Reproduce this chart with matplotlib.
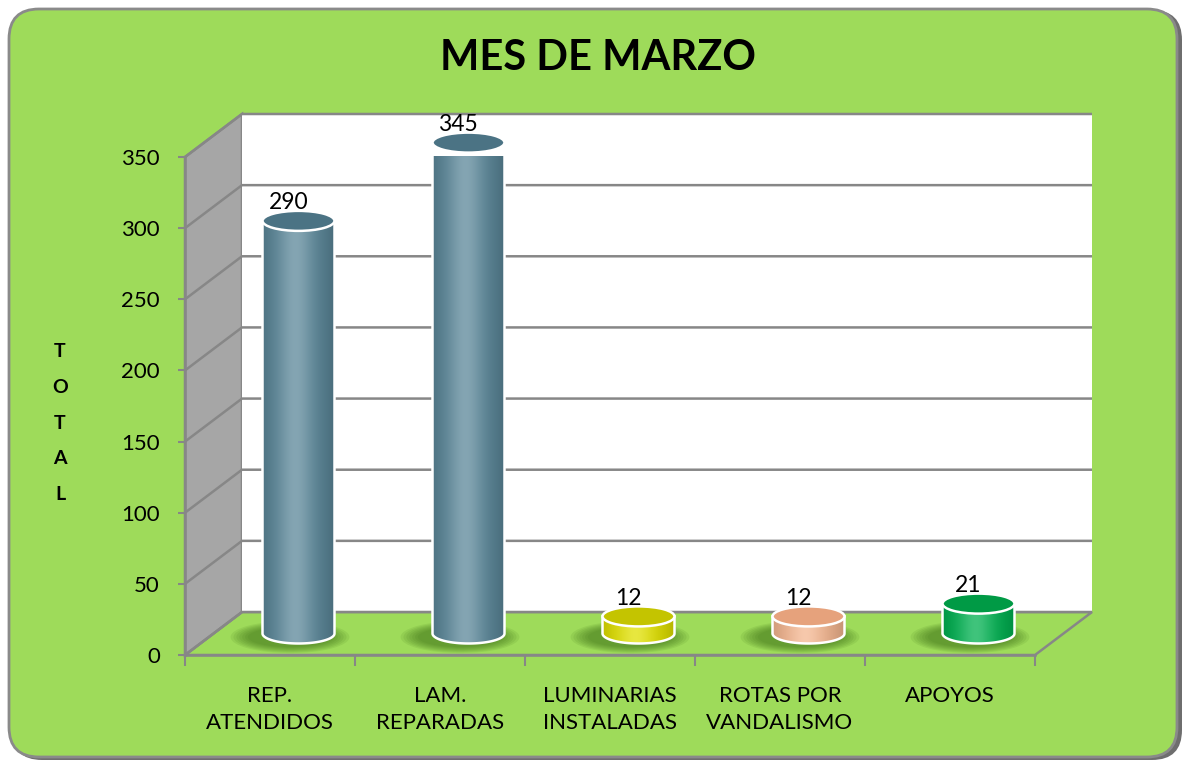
import numpy as np
import matplotlib.pyplot as plt
from matplotlib.patches import FancyBboxPatch, Polygon, Ellipse
from matplotlib.colors import to_rgb

# Daten
categories = ["REP.\nATENDIDOS", "LAM.\nREPARADAS", "LUMINARIAS\nINSTALADAS",
              "ROTAS POR\nVANDALISMO", "APOYOS"]
values = [290, 345, 12, 12, 21]
body_colors = ["#5b8799", "#5b8799", "#e0e000", "#f4b690", "#00b050"]
top_colors = ["#4b7384", "#4b7384", "#c4c400", "#e6a27c", "#009a45"]
yticks = [0, 50, 100, 150, 200, 250, 300, 350]

plt.rcParams['font.family'] = ['Lato', 'DejaVu Sans']

W, H = 1188, 766
fig = plt.figure(figsize=(W / 100, H / 100), dpi=100)
fig.patch.set_facecolor("white")

# Hintergrund mit abgerundetem Rahmen
bg = fig.add_axes([0, 0, 1, 1], zorder=-5)
bg.set_xlim(0, W)
bg.set_ylim(0, H)
bg.axis("off")
bg.add_patch(FancyBboxPatch((12, 6), W - 18, H - 16, boxstyle="round,pad=0,rounding_size=30",
                            facecolor="#6e6e6e", edgecolor="none"))
bg.add_patch(FancyBboxPatch((9, 9), W - 20, H - 18, boxstyle="round,pad=0,rounding_size=30",
                            facecolor="#9edb5a", edgecolor="#8a8a8a", linewidth=2))

# Plotbereich (Vorderkante der 3D-Box)
ax = fig.add_axes([185 / W, (H - 655) / H, 850 / W, 498 / H])
ax.patch.set_alpha(0)

DX = 57 / 170          # Tiefenversatz in Kategorie-Einheiten
DY = 43 / (498 / 350)  # Tiefenversatz in Werte-Einheiten
x0, x1 = -0.5, len(categories) - 0.5
ymax = yticks[-1]
grid_c = "#878787"

# Wände und Boden
ax.add_patch(Polygon([(x0, 0), (x0 + DX, DY), (x1 + DX, DY), (x1, 0)],
                     facecolor="#9edb5a", edgecolor=grid_c, lw=1.8, zorder=1, clip_on=False))
ax.add_patch(Polygon([(x0, 0), (x0 + DX, DY), (x0 + DX, ymax + DY), (x0, ymax)],
                     facecolor="#a6a6a6", edgecolor=grid_c, lw=1.8, zorder=1, clip_on=False))
ax.add_patch(Polygon([(x0 + DX, DY), (x1 + DX, DY), (x1 + DX, ymax + DY), (x0 + DX, ymax + DY)],
                     facecolor="white", edgecolor="none", zorder=1, clip_on=False))
for v in yticks:
    ax.plot([x0, x0 + DX, x1 + DX], [v, v + DY, v + DY], color=grid_c, lw=1.8,
            zorder=1.5, clip_on=False, solid_capstyle="butt")


def shade(color, n=80):
    c = np.array(to_rgb(color))
    t = np.linspace(0, 1, n)
    light = np.exp(-((t - 0.45) / 0.25) ** 2) * 0.25
    dark = (np.abs(t - 0.45) ** 1.6) * 0.5
    rows = []
    for li, dk in zip(light, dark):
        col = c + (1 - c) * li
        col = col * (1 - dk)
        rows.append(np.clip(col, 0, 1))
    return np.array(rows)[None, :, :]


r = 72 / 170 / 2       # Radius in Kategorie-Einheiten
eh = 20 / (498 / 350)  # Ellipsenhöhe in Werte-Einheiten
base = DY / 2
ts = np.linspace(np.pi, 2 * np.pi, 60)

for i, (v, bc, tc) in enumerate(zip(values, body_colors, top_colors)):
    cx = i + DX / 2
    top = base + v
    # Schatten auf dem Boden
    for k in range(7):
        ax.add_patch(Ellipse((cx - 0.05, base - 2.5), 2 * r * (1.65 - 0.08 * k), eh * (1.6 - 0.1 * k),
                             facecolor="#3a7015", alpha=0.11, edgecolor="none", zorder=2,
                             clip_on=False))
    pts = [(cx + r * np.cos(t), base + eh / 2 * np.sin(t)) for t in ts]
    pts += [(cx + r, top), (cx - r, top)]
    body = Polygon(pts, closed=True, facecolor="none", edgecolor="white", lw=1.8, zorder=3.2,
                   clip_on=False)
    ax.add_patch(body)
    im = ax.imshow(shade(bc), extent=(cx - r, cx + r, base - eh, top), aspect="auto",
                   zorder=3, interpolation="bilinear")
    im.set_clip_path(body)
    im.set_clip_box(None)
    ax.add_patch(Ellipse((cx, top), 2 * r, eh, facecolor=tc, edgecolor="white", lw=1.8,
                         zorder=3.4, clip_on=False))
    ax.text(cx - 0.06, top + eh / 2 - 1.5, str(v), ha="center", va="bottom", fontsize=16.5,
            color="black", zorder=4, clip_on=False)

ax.set_xlim(x0, x1)
ax.set_ylim(0, 350)

# Achsen
for s in ["top", "right"]:
    ax.spines[s].set_visible(False)
for s in ["left", "bottom"]:
    ax.spines[s].set_color(grid_c)
    ax.spines[s].set_linewidth(1.8)
    ax.spines[s].set_zorder(5)
ax.set_yticks(yticks)
ax.set_yticklabels([str(t) for t in yticks], fontsize=16)
ax.tick_params(axis="y", length=5, width=1.5, color=grid_c, pad=13)
ax.set_xticks(range(len(categories)))
ax.set_xticklabels(categories, fontsize=16, linespacing=1.45)
ax.tick_params(axis="x", length=0, pad=22)
ax.set_xticks(np.arange(len(categories) + 1) - 0.5, minor=True)
ax.tick_params(axis="x", which="minor", length=8, width=1.5, color=grid_c)

fig.text(60 / W, 1 - 423 / H, "T\nO\nT\nA\nL", ha="center", va="center", fontsize=14,
         fontweight="bold", linespacing=2.35)

fig.text(598 / W, 1 - 58 / H, "MES DE MARZO", ha="center", va="center",
         fontsize=30, fontweight="bold")

fig.savefig("out.png", dpi=100)
